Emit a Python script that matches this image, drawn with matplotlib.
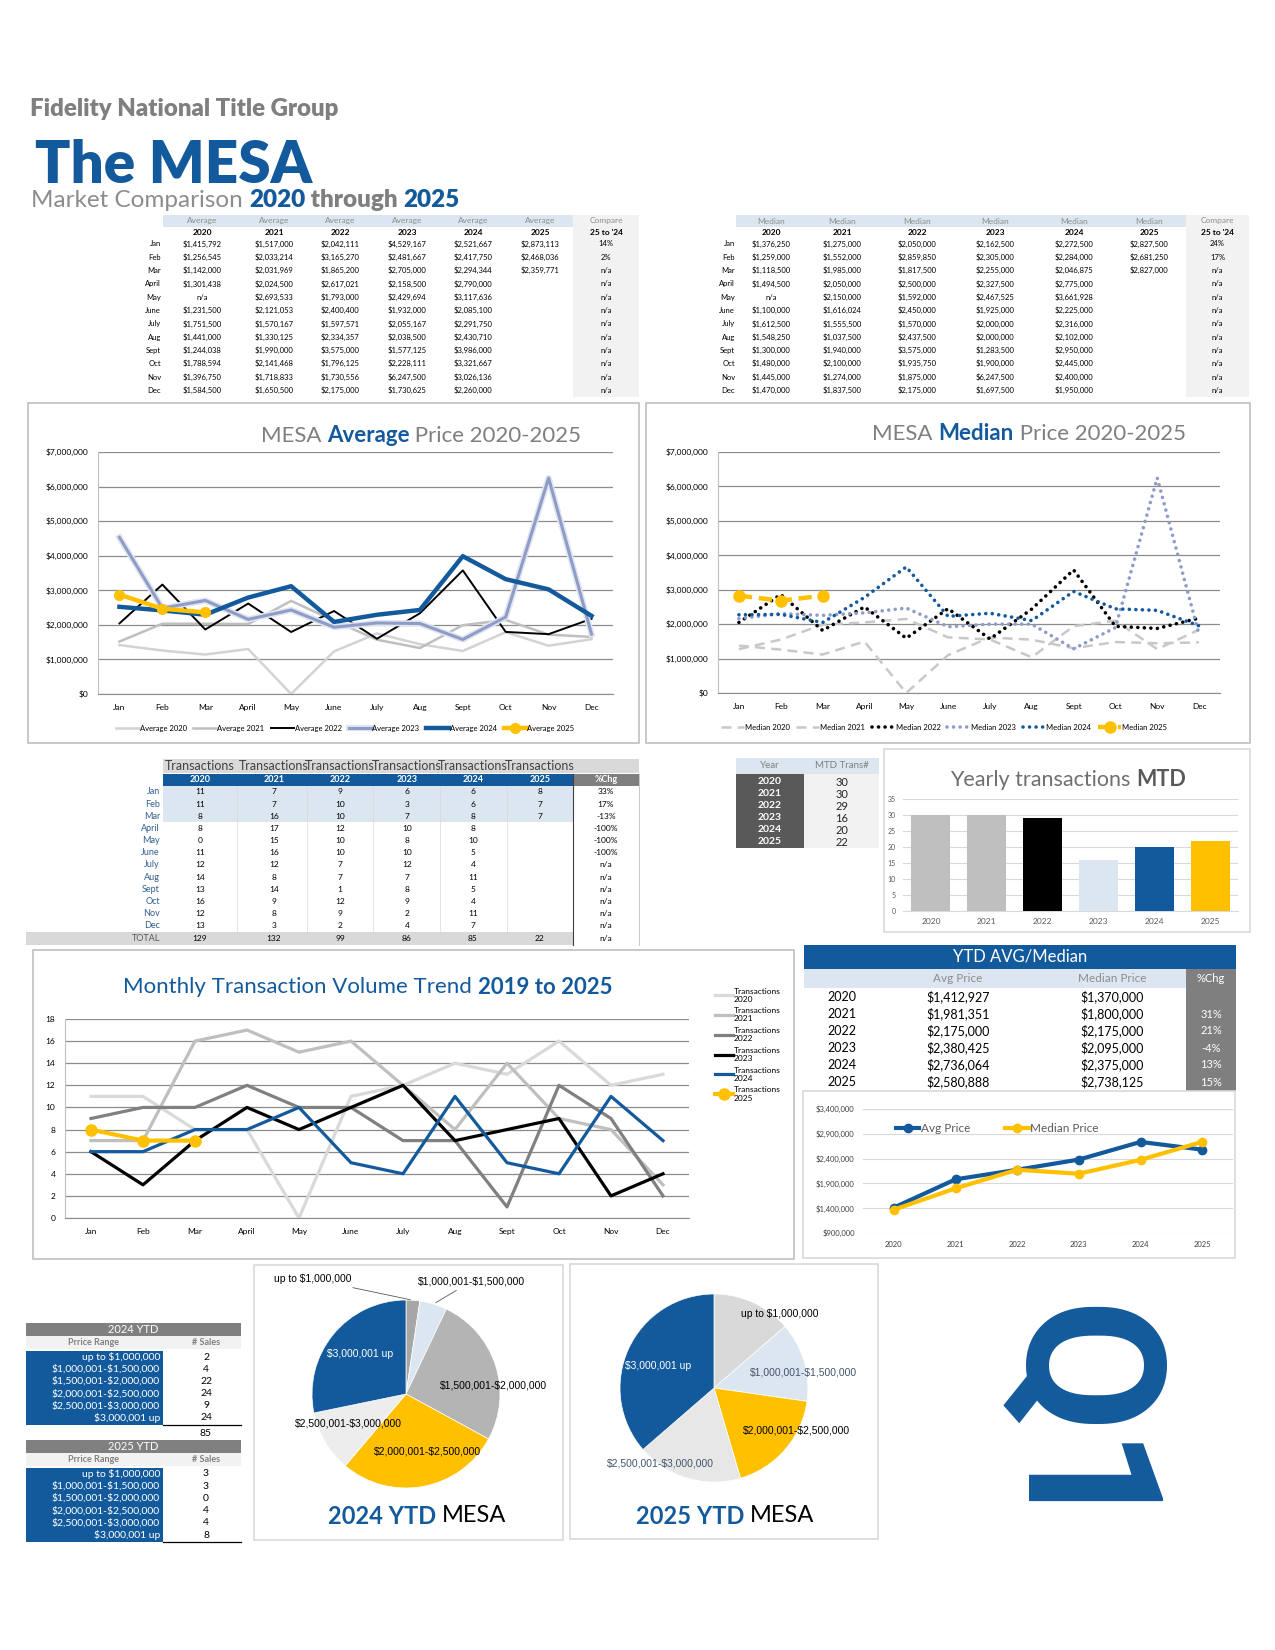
import numpy as np
import matplotlib
matplotlib.use("Agg")
import matplotlib.pyplot as plt
import matplotlib.patheffects as pe
from matplotlib.patches import Rectangle
from matplotlib.textpath import TextPath
from matplotlib.font_manager import FontProperties

plt.rcParams['font.family'] = ['Lato', 'DejaVu Sans']
plt.rcParams['text.parse_math'] = False

W, H = 1275, 1650
BLUE = '#135A9C'
YEL = '#FFC000'
LBLUE = '#DCE6F1'
LGRAY = '#F2F2F2'
TXTGRAY = '#7F7F7F'

months = ['Jan', 'Feb', 'Mar', 'April', 'May', 'June', 'July', 'Aug', 'Sept', 'Oct', 'Nov', 'Dec']
years = ['2020', '2021', '2022', '2023', '2024', '2025']

# average sale price by month (None = n/a)
avg_2020 = [1415792, 1256545, 1142000, 1301438, None, 1231500, 1751500, 1441000, 1244038, 1788594, 1396750, 1584500]
avg_2021 = [1517000, 2033214, 2031969, 2024500, 2693533, 2121053, 1570167, 1330125, 1990000, 2141468, 1718833, 1650500]
avg_2022 = [2042111, 3165270, 1865200, 2617021, 1793000, 2400400, 1597571, 2334357, 3575000, 1796125, 1730556, 2175000]
avg_2023 = [4529167, 2481667, 2705000, 2158500, 2429694, 1932000, 2055167, 2038500, 1577125, 2228111, 6247500, 1730625]
avg_2024 = [2521667, 2417750, 2294344, 2790000, 3117636, 2085100, 2291750, 2430710, 3986000, 3321667, 3026136, 2260000]
avg_2025 = [2873113, 2468036, 2359771]
avg_compare = ['14%', '2%', 'n/a', 'n/a', 'n/a', 'n/a', 'n/a', 'n/a', 'n/a', 'n/a', 'n/a', 'n/a']

# median sale price by month
med_2020 = [1376250, 1259000, 1118500, 1494500, None, 1100000, 1612500, 1548250, 1300000, 1480000, 1445000, 1470000]
med_2021 = [1275000, 1552000, 1985000, 2050000, 2150000, 1616024, 1555500, 1037500, 1940000, 2100000, 1274000, 1837500]
med_2022 = [2050000, 2859850, 1817500, 2500000, 1592000, 2450000, 1570000, 2437500, 3575000, 1935750, 1875000, 2175000]
med_2023 = [2162500, 2305000, 2255000, 2327500, 2467525, 1925000, 2000000, 2000000, 1283500, 1900000, 6247500, 1697500]
med_2024 = [2272500, 2284000, 2046875, 2775000, 3661928, 2225000, 2316000, 2102000, 2950000, 2445000, 2400000, 1950000]
med_2025 = [2827500, 2681250, 2827000]
med_compare = ['24%', '17%', 'n/a', 'n/a', 'n/a', 'n/a', 'n/a', 'n/a', 'n/a', 'n/a', 'n/a', 'n/a']

# transactions by month
tr_2020 = [11, 11, 8, 8, 0, 11, 12, 14, 13, 16, 12, 13]
tr_2021 = [7, 7, 16, 17, 15, 16, 12, 8, 14, 9, 8, 3]
tr_2022 = [9, 10, 10, 12, 10, 10, 7, 7, 1, 12, 9, 2]
tr_2023 = [6, 3, 7, 10, 8, 10, 12, 7, 8, 9, 2, 4]
tr_2024 = [6, 6, 8, 8, 10, 5, 4, 11, 5, 4, 11, 7]
tr_2025 = [8, 7, 7]
tr_totals = [129, 132, 99, 86, 85, 22]
tr_chg = ['33%', '17%', '-13%', '-100%', '-100%', '-100%', 'n/a', 'n/a', 'n/a', 'n/a', 'n/a', 'n/a']

mtd_trans = [30, 30, 29, 16, 20, 22]

ytd_avg = [1412927, 1981351, 2175000, 2380425, 2736064, 2580888]
ytd_med = [1370000, 1800000, 2175000, 2095000, 2375000, 2738125]
ytd_chg = ['', '31%', '21%', '-4%', '13%', '15%']
ytd_ticks = [900000, 1400000, 1900000, 2400000, 2900000, 3400000]

price_ranges = ['up to $1,000,000', '$1,000,001-$1,500,000', '$1,500,001-$2,000,000',
                '$2,000,001-$2,500,000', '$2,500,001-$3,000,000', '$3,000,001 up']
sales_2024 = [2, 4, 22, 24, 9, 24]
sales_2025 = [3, 3, 0, 4, 4, 8]
sales_2024_total = 85

fig = plt.figure(figsize=(W / 100, H / 100), dpi=100)
bg = fig.add_axes([0, 0, 1, 1])
bg.set_xlim(0, W)
bg.set_ylim(H, 0)
bg.axis('off')
renderer = fig.canvas.get_renderer()


def box(x0, y0, x1, y1, fc, ec='none', lw=0.8, z=1):
    bg.add_patch(Rectangle((x0, y0), x1 - x0, y1 - y0, facecolor=fc, edgecolor=ec, linewidth=lw, zorder=z))


def txt(x, y, s, size=5.5, color='black', ha='center', weight='normal', **kw):
    return bg.text(x, y, s, fontsize=size, color=color, ha=ha, va='center', fontweight=weight, zorder=4, **kw)


def pax(x0, y0, x1, y1):
    return fig.add_axes([x0 / W, 1 - y1 / H, (x1 - x0) / W, (y1 - y0) / H])


def rich(x, y, parts, size=15, ha='center', va='center'):
    items = []
    for s, color, weight in parts:
        t = bg.text(0, y, s, fontsize=size, color=color, fontweight=weight, ha='left', va=va, zorder=4)
        items.append((t, t.get_window_extent(renderer).width))
    total = sum(w for _, w in items)
    cx = x - total / 2 if ha == 'center' else x
    for t, w in items:
        t.set_x(cx)
        cx += w


def money(v):
    return 'n/a' if v is None else f'${v:,}'


def zero(vals):
    return [0 if v is None else v for v in vals]


# ---------------- header ----------------
bg.text(30, 109, 'Fidelity National Title Group', fontsize=17.3, fontweight='heavy', color=TXTGRAY, va='center')
bg.text(35, 183, 'The MESA', fontsize=42, fontweight='heavy', color=BLUE, va='baseline')
rich(31, 207, [('Market Comparison ', '#8C8C8C', 'normal'), ('2020', BLUE, 'heavy'),
               (' through ', TXTGRAY, 'heavy'), ('2025', BLUE, 'heavy')], size=17.5, ha='left', va='baseline')

# ---------------- price tables ----------------
row_y = [244 + 13.3 * i for i in range(12)]


def price_table(cols, lab_x, bg_x0, cmp_x0, cmp_x1, head, series, compare):
    box(bg_x0, 215, cmp_x0, 227, LBLUE)
    box(cmp_x0, 215, cmp_x1, 397, LGRAY)
    cmp_c = (cmp_x0 + cmp_x1) / 2
    for i, yr in enumerate(years):
        txt(cols[i], 221, head, color='#8C8C8C', size=6)
        txt(cols[i], 232.5, yr, weight='bold', size=6)
    txt(cmp_c, 221, 'Compare', color='#8C8C8C', size=6)
    txt(cmp_c, 232.5, "25 to '24", weight='bold', size=6)
    for r, m in enumerate(months):
        txt(lab_x, row_y[r], m, ha='right')
        for i, s in enumerate(series):
            if r < len(s):
                txt(cols[i], row_y[r], money(s[r]))
        txt(cmp_c, row_y[r], compare[r])


avg_series = [avg_2020, avg_2021, avg_2022, avg_2023, avg_2024, avg_2025]
med_series = [med_2020, med_2021, med_2022, med_2023, med_2024, med_2025]
price_table([202, 274, 340, 407, 473, 540], 161, 163, 573, 639, 'Average', avg_series, avg_compare)
price_table([771, 842, 917, 995, 1074, 1149], 735, 736, 1186, 1249, 'Median', med_series, med_compare)

# ---------------- price charts ----------------
x12 = np.arange(12)


def price_axes(ax):
    ax.set_xlim(-0.5, 11.5)
    ax.set_ylim(0, 7e6)
    ticks = np.arange(0, 7.01e6, 1e6)
    ax.set_yticks(ticks)
    ax.set_yticklabels([f'${int(t):,}' for t in ticks], fontsize=6)
    ax.set_xticks(x12)
    ax.set_xticklabels(months, fontsize=6)
    ax.tick_params(length=0, pad=7)
    ax.grid(axis='y', color='#8C8C8C', lw=0.9)
    ax.set_axisbelow(True)
    for s in ['top', 'right']:
        ax.spines[s].set_visible(False)
    ax.spines['left'].set_color('#BFBFBF')
    ax.spines['bottom'].set_color('#8C8C8C')


box(28, 403, 639, 743, 'white', ec='#BFBFBF', lw=1.2)
ax = pax(98, 452, 613, 694)
glow = [pe.Stroke(linewidth=4.5, foreground='#E1E5F0'), pe.Normal()]
avg_styles = [dict(color='#D3D3D3', lw=1.8), dict(color='#BFBFBF', lw=1.8), dict(color='black', lw=1.4),
              dict(color='#8E9CC8', lw=2.2, path_effects=glow), dict(color=BLUE, lw=3.2),
              dict(color=YEL, lw=3.2, marker='o', ms=7)]
for yr, s, st in zip(years, avg_series, avg_styles):
    ax.plot(x12[:len(s)], zero(s), label=f'Average {yr}', **st)
price_axes(ax)
ax.legend(ncol=6, loc='upper center', bbox_to_anchor=(0.48, -0.1), fontsize=5.5, frameon=False,
          handlelength=3, columnspacing=0.9, handletextpad=0.1)
rich(421, 436, [('MESA ', TXTGRAY, 'normal'), ('Average', BLUE, 'bold'), (' Price 2020-2025', TXTGRAY, 'normal')], size=16)

box(646, 403, 1250, 743, 'white', ec='#BFBFBF', lw=1.2)
ax = pax(718, 452, 1220, 693)
dots = (0, (0.01, 1.8))
med_styles = [dict(color='#C8C8C8', lw=1.8, ls=(0, (4, 2.5))), dict(color='#C8C8C8', lw=1.8, ls=(0, (4, 2.5))),
              dict(color='black', lw=2.6, ls=dots, dash_capstyle='round'),
              dict(color='#8E9CC8', lw=2.6, ls=dots, dash_capstyle='round'),
              dict(color=BLUE, lw=2.6, ls=dots, dash_capstyle='round'),
              dict(color=YEL, lw=3.2, ls=(0, (3, 1.5)), marker='o', ms=8)]
for yr, s, st in zip(years, med_series, med_styles):
    ax.plot(x12[:len(s)], zero(s), label=f'Median {yr}', **st)
price_axes(ax)
ax.legend(ncol=6, loc='upper center', bbox_to_anchor=(0.45, -0.1), fontsize=5.5, frameon=False,
          handlelength=3, columnspacing=0.9, handletextpad=0.1)
rich(1029, 434, [('MESA ', TXTGRAY, 'normal'), ('Median', BLUE, 'bold'), (' Price 2020-2025', TXTGRAY, 'normal')], size=16)

# ---------------- transactions table ----------------
tr_series = [tr_2020, tr_2021, tr_2022, tr_2023, tr_2024, tr_2025]
tcols = [200, 274, 340, 407, 473, 540]
tedges = [163, 237, 307, 373, 440, 507, 573]
trow = [792 + 12.15 * i for i in range(12)]
box(163, 759, 639, 773, '#D9D9D9')
box(163, 774, 573, 786, BLUE)
box(573, 774, 639, 786, '#7F7F7F')
box(163, 786, 573, trow[2] + 6, LBLUE)
box(26, 932, 573, 945, '#D9D9D9')
for i in range(6):
    left = tedges[i] if i else 140
    right = tedges[i + 1] if i < 5 else 639
    clip = Rectangle((left, 759), right - left, 14, transform=bg.transData)
    t = txt(tcols[i], 766, 'Transactions', size=9, color='#404040')
    t.set_clip_path(clip)
    txt(tcols[i], 780, years[i], size=6.5, weight='bold', color='white')
    txt(tcols[i], 938.5, str(tr_totals[i]), size=6)
for xe in tedges[1:-1]:
    bg.plot([xe, xe], [786, 932], color='#D9D9D9', lw=0.5, zorder=2)
bg.plot([573, 573], [774, 945], color='#404040', lw=0.8, zorder=3)
bg.plot([639, 639], [774, 945], color='#BFBFBF', lw=0.6, zorder=3)
txt(606, 780, '%Chg', size=6.5, weight='bold', color='white')
for r, m in enumerate(months):
    txt(160, trow[r], m, ha='right', size=6.5, color='#2F5F8F')
    for i, s in enumerate(tr_series):
        if r < len(s):
            txt(tcols[i], trow[r], str(s[r]), size=6)
    txt(606, trow[r], tr_chg[r], size=6)
txt(160, 938.5, 'TOTAL', ha='right', size=6.5, color='#595959')
txt(606, 938.5, 'n/a', size=6)

# ---------------- MTD table + bar chart ----------------
box(736, 758, 879, 774, LBLUE)
box(736, 774, 804, 848, '#595959')
box(804, 774, 879, 848, LGRAY)
txt(770, 766, 'Year', size=7, color='#808080')
txt(842, 766, 'MTD Trans#', size=7, color='#808080')
for i, yr in enumerate(years):
    y = 782 + 12 * i
    txt(770, y, yr, size=7.5, weight='bold', color='white')
    txt(842, y, str(mtd_trans[i]), size=8, color='#262626')

box(884, 749, 1250, 932, 'white', ec='#D9D9D9', lw=1.2)
ax = pax(903, 799, 1238, 911)
ax.bar(np.arange(6), mtd_trans, width=0.7, color=['#BFBFBF', '#BFBFBF', 'black', LBLUE, BLUE, YEL], zorder=3)
ax.set_ylim(0, 35)
ax.set_xlim(-0.5, 5.5)
ax.set_yticks(np.arange(0, 36, 5))
ax.set_xticks(np.arange(6))
ax.set_xticklabels(years, fontsize=6, color='#595959')
ax.tick_params(axis='y', labelsize=5, labelcolor='#595959')
ax.tick_params(length=0, pad=5)
ax.grid(axis='y', color='#D9D9D9', lw=0.8)
for s in ['top', 'right', 'left']:
    ax.spines[s].set_visible(False)
ax.spines['bottom'].set_color('#D9D9D9')
rich(1068, 780, [('Yearly transactions ', '#6F6F6F', 'normal'), ('MTD', '#595959', 'bold')], size=15.5)

# ---------------- monthly transaction chart ----------------
box(33, 950, 794, 1259, 'white', ec='#BFBFBF', lw=1.2)
ax = pax(65, 1019, 689, 1218)
tr_styles = [dict(color='#D9D9D9', lw=2.3), dict(color='#BFBFBF', lw=2.3), dict(color='#808080', lw=2.3),
             dict(color='black', lw=2.3), dict(color=BLUE, lw=2.3), dict(color=YEL, lw=3, marker='o', ms=8)]
for yr, s, st in zip(years, tr_series, tr_styles):
    ax.plot(x12[:len(s)], s, label=f'Transactions\n{yr}', **st)
ax.set_xlim(-0.5, 11.5)
ax.set_ylim(0, 18)
ax.set_yticks(np.arange(0, 19, 2))
ax.set_xticks(x12)
ax.set_xticklabels(months, fontsize=6)
ax.tick_params(axis='y', labelsize=6)
ax.tick_params(length=0, pad=7)
ax.grid(axis='y', color='#8C8C8C', lw=0.9)
ax.set_axisbelow(True)
for s in ['top', 'right']:
    ax.spines[s].set_visible(False)
ax.spines['left'].set_color('#BFBFBF')
ax.spines['bottom'].set_color('#8C8C8C')
ax.legend(loc='upper left', bbox_to_anchor=(707 / W, 1 - 980 / H), bbox_transform=fig.transFigure,
          fontsize=6, frameon=False, handlelength=2.2, handletextpad=0.1, labelspacing=0.55)
rich(368, 987, [('Monthly Transaction Volume Trend ', BLUE, 'normal'), ('2019 to 2025', BLUE, 'bold')], size=16)

# ---------------- YTD table + chart ----------------
box(804, 945, 1236, 969, BLUE)
box(804, 969, 1186, 988, LBLUE)
box(1186, 969, 1236, 1091, '#7F7F7F')
txt(1020, 957, 'YTD AVG/Median', size=12, color='white')
txt(958, 979, 'Avg Price', size=8.5, color='#8C8C8C')
txt(1112, 979, 'Median Price', size=8.5, color='#8C8C8C')
txt(1211, 979, '%Chg', size=8, color='white')
for i, yr in enumerate(years):
    y = 997 + 17 * i
    txt(842, y, yr, size=9)
    txt(958, y, money(ytd_avg[i]), size=9)
    txt(1112, y, money(ytd_med[i]), size=9)
    txt(1211, y, ytd_chg[i], size=8, color='white')

box(803, 1091, 1235, 1258, 'white', ec='#D9D9D9', lw=1.2)
ax = pax(863, 1109, 1233, 1233)
x6 = np.arange(6)
ax.plot(x6, ytd_avg, color=BLUE, lw=3, marker='o', ms=6, label='Avg Price')
ax.plot(x6, ytd_med, color=YEL, lw=3, marker='o', ms=6, label='Median Price')
ax.set_xlim(-0.5, 5.5)
ax.set_ylim(900000, 3400000)
ax.set_yticks(ytd_ticks)
ax.set_yticklabels([money(v) for v in ytd_ticks], fontsize=5.5, color='#404040')
ax.set_xticks(x6)
ax.set_xticklabels(years, fontsize=5.5, color='#404040')
ax.tick_params(length=0, pad=6)
ax.grid(axis='y', color='#D9D9D9', lw=0.8)
for s in ['top', 'right', 'left', 'bottom']:
    ax.spines[s].set_visible(False)
ax.legend(ncol=2, loc='upper left', bbox_to_anchor=(0.06, 0.97), fontsize=8.5, frameon=False,
          handlelength=2, handletextpad=0.1, columnspacing=3, labelcolor='#595959')


# ---------------- price range tables ----------------
def range_table(y_head, title, counts, total=None):
    box(26, y_head, 241, y_head + 13, '#808080')
    txt(133, y_head + 6.5, title, size=8, color='white')
    box(26, y_head + 13, 241, y_head + 26, LGRAY)
    txt(93, y_head + 19.5, 'Prrice Range', size=6.5, weight='bold', color='#808080')
    txt(206, y_head + 19.5, '# Sales', size=6.5, weight='bold', color='#808080')
    ys = [y_head + 34 + 12.2 * i for i in range(6)]
    box(26, ys[0] - 6.5, 163, ys[-1] + 6.5, BLUE)
    for y, lab, c in zip(ys, price_ranges, counts):
        txt(160, y, lab, ha='right', size=7.5, color='white')
        txt(206, y, str(c), size=7.5)
    bg.plot([163, 241], [ys[-1] + 6.5, ys[-1] + 6.5], color='black', lw=0.9, zorder=3)
    if total is not None:
        txt(206, ys[-1] + 15, str(total), size=7.5)


range_table(1323, '2024 YTD', sales_2024, sales_2024_total)
range_table(1440, '2025 YTD', sales_2025)


# ---------------- pies ----------------
def pie_chart(cx, cy, r, vals, colors, labels):
    ax = pax(cx - r, cy - r, cx + r, cy + r)
    wedges, _ = ax.pie(vals, colors=colors, startangle=90, counterclock=False,
                       wedgeprops=dict(linewidth=0.5, edgecolor='white'))
    ax.set_xlim(-1, 1)
    ax.set_ylim(-1, 1)
    for w, lab in zip(wedges, labels):
        if lab is None:
            continue
        name, dx, dy, col, leader = lab
        if leader:
            a = np.deg2rad((w.theta1 + w.theta2) / 2)
            ax.annotate(name, xy=(np.cos(a), np.sin(a)), xytext=(dx, dy), fontsize=7.5, color=col,
                        ha='center', va='center', family=['Liberation Sans', 'DejaVu Sans'],
                        arrowprops=dict(arrowstyle='-', color='#595959', lw=0.6), annotation_clip=False)
        else:
            ax.text(dx, dy, name, fontsize=7.5, color=col, ha='center', va='center',
                    family=['Liberation Sans', 'DejaVu Sans'])


box(254, 1265, 563, 1540, 'white', ec='#D9D9D9', lw=1.2)
pie_chart(406, 1394, 94, sales_2024, ['#A6A6A6', LBLUE, '#B4B4B4', YEL, '#EDEDED', BLUE],
          [(price_ranges[0], -0.99, 1.22, 'black', True), (price_ranges[1], 0.70, 1.20, 'black', True),
           (price_ranges[2], 0.93, 0.09, 'black', False), (price_ranges[3], 0.23, -0.61, 'black', False),
           (price_ranges[4], -0.61, -0.31, 'black', False), (price_ranges[5], -0.49, 0.43, 'white', False)])
rich(417, 1516, [('2024 YTD ', BLUE, 'bold'), ('MESA', 'black', 'normal')], size=17)

box(570, 1264, 878, 1539, 'white', ec='#D9D9D9', lw=1.2)
pie_chart(714, 1388, 94, sales_2025, ['#D9D9D9', LBLUE, '#B4B4B4', YEL, '#E7E7E7', BLUE],
          [(price_ranges[0], 0.70, 0.79, 'black', False), (price_ranges[1], 0.95, 0.17, '#44546A', False),
           None, (price_ranges[3], 0.88, -0.45, 'black', False),
           (price_ranges[4], -0.57, -0.80, '#44546A', False), (price_ranges[5], -0.59, 0.23, 'white', False)])
rich(725, 1516, [('2025 YTD ', BLUE, 'bold'), ('MESA', 'black', 'normal')], size=17)

# ---------------- Q1 mark (turned a quarter clockwise) ----------------
# each glyph is sized and placed so its ink fills the box it has in the reference
q_boxes = [('Q', (1003, 1307, 1152, 1436)), ('1', (1013, 1457, 1146, 1515))]
for ch, (x0, y0, x1, y1) in q_boxes:
    ext = TextPath((0, 0), ch, size=1, prop=FontProperties(family='Roboto', weight='bold')).get_extents()
    # after the turn, glyph width runs down the page and glyph height runs across it
    em = np.sqrt((y1 - y0) / ext.width * (x1 - x0) / ext.height)
    ox = (x0 + x1) / 2 - em * (ext.y0 + ext.y1) / 2
    oy = (y0 + y1) / 2 - em * (ext.x0 + ext.x1) / 2
    bg.text(ox, oy, ch, rotation=-90, rotation_mode='anchor', ha='left', va='baseline', color=BLUE,
            fontproperties=FontProperties(family='Roboto', weight='bold', size=em * 0.72))

fig.savefig('out.png', dpi=100)
